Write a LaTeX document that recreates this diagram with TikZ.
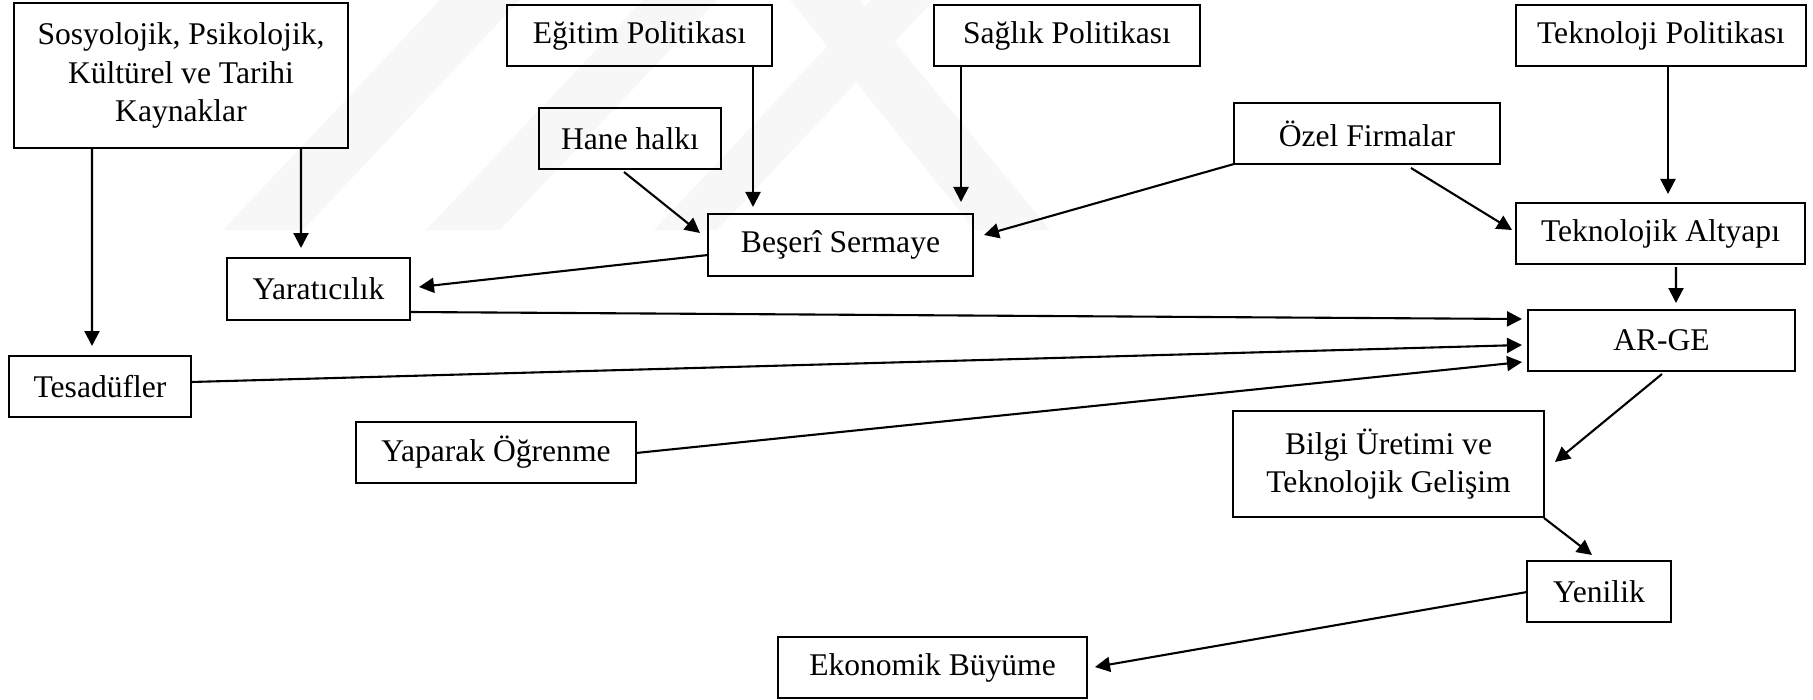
\documentclass[tikz,border=0pt]{standalone}
\usepackage{fontspec}
\setmainfont{Liberation Serif}
\usetikzlibrary{arrows.meta,calc}
\begin{document}
\begin{tikzpicture}[x=1bp,y=-1bp,
  box/.style={draw,line width=2.3bp,inner sep=0pt,outer sep=0pt,
    minimum height=61bp,align=center,
    font=\fontsize{31.7}{39}\selectfont},
  arr/.style={line width=2.1bp,-{Triangle[length=15bp,width=15bp]}},
  band/.style={fill=black!3,draw=none}]
\useasboundingbox (0,0) rectangle (1813,700);

% faint background bands
\fill[band] (223,230) -- (303,230) -- (520,0) -- (440,0) -- cycle;
\fill[band] (426,230) -- (500,230) -- (717,0) -- (643,0) -- cycle;
\fill[band] (654,230) -- (717,230) -- (934,0) -- (871,0) -- cycle;
\fill[band] (790,0) -- (860,0) -- (1050,230) -- (975,230) -- cycle;

% boxes
\node[box,minimum width=334bp,minimum height=145bp] (sos) at (181,75.5)
  {Sosyolojik, Psikolojik,\\Kültürel ve Tarihi\\Kaynaklar};
\node[box,minimum width=265bp] (egitim) at (639.5,35.5) {Eğitim Politikası};
\node[box,minimum width=266bp] (saglik) at (1067,35.5) {Sağlık Politikası};
\node[box,minimum width=290bp] (tekpol) at (1661,35.5) {Teknoloji Politikası};
\node[box,minimum width=182bp] (hane) at (630,138.5) {Hane halkı};
\node[box,minimum width=266bp] (ozel) at (1367,133.5) {Özel Firmalar};
\node[box,minimum width=265bp,minimum height=62bp] (beseri) at (840.5,245) {Beşerî Sermaye};
\node[box,minimum width=289bp] (altyapi) at (1660.5,233.5) {Teknolojik Altyapı};
\node[box,minimum width=183bp,minimum height=62bp] (yar) at (318.5,289) {Yaratıcılık};
\node[box,minimum width=267bp] (arge) at (1661.5,340.5) {AR-GE};
\node[box,minimum width=182bp] (tes) at (100,386.5) {Tesadüfler};
\node[box,minimum width=280bp] (yap) at (496,452.5) {Yaparak Öğrenme};
\node[box,minimum width=311bp,minimum height=106bp] (bilgi) at (1388.5,464)
  {Bilgi Üretimi ve\\Teknolojik Gelişim};
\node[box,minimum width=144bp] (yen) at (1599,591.5) {Yenilik};
\node[box,minimum width=309bp] (eko) at (932.5,667.5) {Ekonomik Büyüme};

% connectors
\draw[arr] ($(sos.south west)+(78,0)$) -- ($(tes.north west)+(83,-10)$);
\draw[arr] ($(sos.south west)+(287,0)$) -- ($(yar.north west)+(74,-10)$);
\draw[arr] ($(egitim.south west)+(246,0)$) -- ($(beseri.north west)+(45,-7)$);
\draw[arr] ($(saglik.south west)+(27,0)$) -- ($(beseri.north west)+(253,-12)$);
\draw[arr] ($(hane.south west)+(85,3)$) -- ($(beseri.north west)+(-8,19)$);
\draw[arr] (ozel.south west) -- ($(beseri.north east)+(11,21)$);
\draw[arr] ($(ozel.south west)+(177,4)$) -- ($(altyapi.north west)+(-4,27)$);
\draw[arr] ($(tekpol.south west)+(152,0)$) -- ($(altyapi.north west)+(152,-9)$);
\draw[arr] ($(altyapi.south west)+(160,3)$) -- ($(arge.north west)+(148,-7)$);
\draw[arr] ($(beseri.west)+(0,10)$) -- ($(yar.east)+(9,-2)$);
\draw[arr] ($(yar.east)+(0,23)$) -- ($(arge.west)+(-6,-21.5)$);
\draw[arr] ($(tes.east)+(0,-4.5)$) -- ($(arge.west)+(-6,4.5)$);
\draw[arr] ($(yap.east)+(0,0.5)$) -- ($(arge.west)+(-6,21.5)$);
\draw[arr] ($(arge.south west)+(134,3)$) -- ($(bilgi.east)+(11,-2)$);
\draw[arr] ($(bilgi.south east)+(0,1)$) -- ($(yen.north west)+(65,-6)$);
\draw[arr] ($(yen.west)+(0,0.5)$) -- ($(eko.east)+(8,-0.5)$);
\end{tikzpicture}
\end{document}
